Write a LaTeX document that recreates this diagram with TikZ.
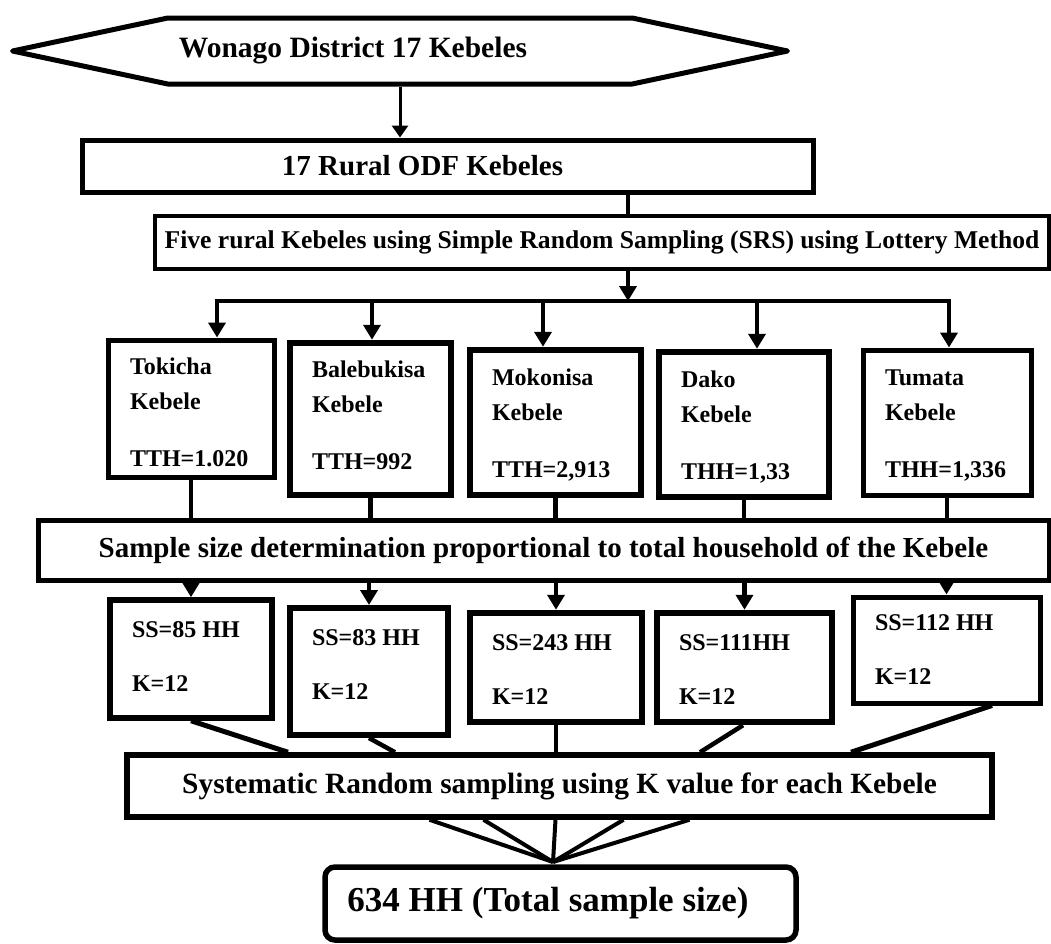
\documentclass[tikz,border=0pt]{standalone}
\usepackage{fontspec}
\setmainfont{Liberation Serif}
\usetikzlibrary{arrows.meta,
  shapes.symbols,
  positioning,
  calc
}

\newcommand{\kebtext}[4]{%
  \begin{minipage}[c][#2][t]{#1}\leftskip=22pt\relax\rule{0pt}{#3}#4\end{minipage}}

\begin{document}
\begin{tikzpicture}[x=1pt,y=-1pt,
  >={Stealth[length=15pt,width=17pt,inset=0pt]},
  hexbox/.style={signal, signal to=east and west, signal pointer angle=24, draw, line width=5pt, line join=round, inner sep=0pt},
  flowbox/.style={draw, line width=5pt, inner sep=0pt},
  kebbox/.style={flowbox, font=\bfseries\fontsize{24}{35}\selectfont},
  ssbox/.style={flowbox, font=\bfseries\fontsize{24}{54}\selectfont},
  link/.style={line width=4.5pt}]
  \useasboundingbox (0,0) rectangle (1051,943);

  % District
  \node[hexbox, minimum width=775pt, minimum height=66pt, font=\bfseries\fontsize{29.5}{34}\selectfont] (dist) at (400,51) {Wonago District 17 Kebeles\hspace*{94pt}};
  \node[flowbox, minimum width=731pt, minimum height=52pt, font=\bfseries\fontsize{29}{34}\selectfont] (odf) at (447.5,166) {17 Rural ODF Kebeles\hspace*{50pt}};
  \node[flowbox, line width=3.5pt, minimum width=894pt, minimum height=53pt, font=\bfseries\fontsize{25.6}{30}\selectfont] (five) at (602,242.5) {Five rural Kebeles using Simple Random Sampling (SRS) using Lottery Method};
  \coordinate (bus) at (628,301);

  \draw[->, line width=3pt, >={Stealth[length=12pt,width=16pt,inset=0pt]}] (dist.south) -- (dist.south |- odf.north);
  \draw[link] (odf.south -| bus) -- (five.north -| bus);
  \draw[->, link] (five.south -| bus) -- (bus);

  % Kebeles
  \node[kebbox] (tok) at (191,408.5) {\kebtext{166pt}{137pt}{34pt}{Tokicha\\Kebele\\[22pt]TTH=1.020}};
  \node[kebbox, line width=6.5pt] (bal) at (370.5,419) {\kebtext{161pt}{152pt}{34pt}{Balebukisa\\Kebele\\[22pt]TTH=992}};
  \node[kebbox, line width=6.5pt] (mok) at (555.5,422.5) {\kebtext{171pt}{145pt}{35pt}{Mokonisa\\Kebele\\[22pt]TTH=2,913}};
  \node[kebbox, line width=6.5pt] (dak) at (744,424.5) {\kebtext{170pt}{145pt}{35pt}{Dako\\Kebele\\[22pt]THH=1,33}};
  \node[kebbox] (tum) at (947,422.5) {\kebtext{168pt}{145pt}{35pt}{Tumata\\Kebele\\[22pt]THH=1,336}};

  \foreach \n/\x in {tok/217, bal/372, mok/543, dak/757, tum/949}
    \coordinate (d\n) at (\x,301);
  \draw[link, line cap=rect] (dtok) -- (dtum);
  \foreach \n in {tok,bal,mok,dak,tum}
    \draw[->, link] (d\n) -- (d\n |- \n.north);

  % Sample size determination
  \node[flowbox, minimum width=1011pt, minimum height=60pt, font=\bfseries\fontsize{29}{34}\selectfont] (samp) at (543.5,550) {Sample size determination proportional to total household of the Kebele};
  \foreach \n in {tok,bal,mok,dak,tum}
    \draw[link] (\n.south) -- (\n.south |- samp.north);

  % Sample sizes
  \node[ssbox, line width=5.5pt] (s1) at (191,659) {\kebtext{162pt}{118pt}{37pt}{SS=85 HH\\K=12}};
  \node[ssbox, line width=6pt] (s2) at (369,671.5) {\kebtext{158pt}{127pt}{37pt}{SS=83 HH\\K=12}};
  \node[ssbox, line width=6.5pt] (s3) at (556,667.5) {\kebtext{172pt}{109pt}{37pt}{SS=243 HH\\K=12}};
  \node[ssbox, line width=6.5pt] (s4) at (744.5,667.5) {\kebtext{175pt}{109pt}{37pt}{SS=111HH\\K=12}};
  \node[ssbox] (s5) at (946.5,650) {\kebtext{187pt}{106pt}{33pt}{SS=112 HH\\K=12}};
  \foreach \n in {s1,s2,s3,s4,s5}
    \draw[->, link] (\n.north |- samp.south) -- (\n.north);

  % Systematic sampling
  \node[flowbox, line width=5.5pt, minimum width=865pt, minimum height=62pt, font=\bfseries\fontsize{29.4}{34}\selectfont] (sys) at (559.5,786) {Systematic Random sampling using K value for each Kebele};
  \draw[link, line width=5pt] (s1.south) -- ([xshift=-271.5pt]sys.north);
  \draw[link] (s2.south) -- ([xshift=-164.5pt]sys.north);
  \draw[link] (s3.south) -- (s3.south |- sys.north);
  \draw[link] ([xshift=-1.5pt]s4.south) -- ([xshift=140.5pt]sys.north);
  \draw[link, line width=5pt] ([xshift=45.5pt]s5.south) -- ([xshift=291.5pt]sys.north);

  % Total
  \node[flowbox, line width=5.5pt, rounded corners=10pt, minimum width=471pt, minimum height=73pt, font=\bfseries\fontsize{35}{40}\selectfont] (tot) at (560.5,903.5) {634 HH (Total sample size)\hspace*{25pt}};
  \coordinate (meet) at (553,862);
  \foreach \dx in {-130,-76,-4,64,130}
    \draw[line width=4pt] ([xshift=\dx pt]sys.south) -- (meet);
\end{tikzpicture}
\end{document}
